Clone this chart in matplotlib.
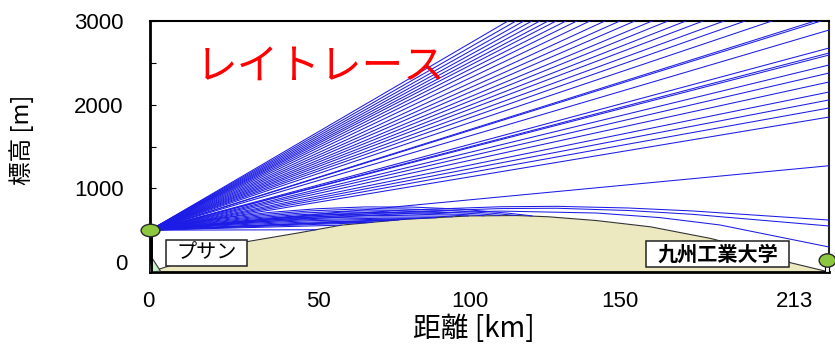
import matplotlib
matplotlib.use('Agg')
import matplotlib.pyplot as plt
from matplotlib.path import Path
from matplotlib.transforms import Affine2D, ScaledTranslation
from matplotlib.patches import Rectangle, Polygon, PathPatch

# ---------------- data ----------------
terrain_km = [0, 5, 30, 47, 60, 80, 100, 115, 125, 140, 157, 176, 190, 201, 213]
terrain_m = [0, 60, 360, 470, 560, 630, 670, 675, 660, 615, 540, 400, 260, 110, 0]

tx_km, tx_m = 0.0, 500.0          # プサン antenna
rx_km, rx_m = 212.5, 145.0        # 九州工業大学 antenna

# rays leaving through the top of the frame (km where they reach 3000 m)
top_exit_km = [112.3, 114.8, 117.3, 119.8, 122.3, 124.9, 127.4, 130.5, 133.9,
               138.0, 142.7, 147.4, 152.1, 157.5, 162.5, 168.1, 173.5, 180.1,
               186.7, 195.1, 208.6, 210.5]
# rays leaving through the right edge (height in m at 213 km)
edge_end_m = [2892, 2677, 2617, 2593, 2474, 2378, 2271, 2151, 2056, 1960, 1852, 1270]
# straight rays ending on the ground
ground_hit_km = [52, 60, 68, 78, 90]
ground_hit_m = [505, 560, 590, 622, 650]
# bending rays falling back onto the ground: end point and mid control height
fall_end_km = [70, 75, 80, 85, 90, 95, 100, 105, 110, 115, 120]
fall_end_m = [595, 613, 630, 640, 650, 660, 670, 672, 675, 675, 670]
fall_ctrl_m = [577, 605, 632, 662, 694, 728, 765, 805, 850, 900, 955]
# bent rays passing over the hill
bent_km = [[0, 40, 80, 110, 127.5, 150, 170, 213],
           [0, 40, 80, 110, 127.5, 150, 170, 213],
           [0, 40, 80, 110, 140, 160, 178.8, 213]]
bent_m = [[500, 645, 740, 780, 785, 765, 730, 621],
          [500, 630, 720, 758, 762, 735, 690, 550],
          [500, 615, 700, 728, 705, 650, 562, 299]]

x_ticks = [0, 50, 100, 150, 213]
y_ticks = [0, 500, 1000, 1500, 2000, 2500, 3000]
y_labels = ['0', '', '1000', '', '2000', '', '3000']
X_MAX, Y_MAX = 213, 3000

# ---------------- figure ----------------
JP = ['Noto Sans CJK JP', 'DejaVu Sans']
fig = plt.figure(figsize=(8.35, 3.44), dpi=100)
L, R, T, B = 150, 829, 21, 272
ax = fig.add_axes([L / 835, 1 - B / 344, (R - L) / 835, (B - T) / 344])
ax.set_xlim(0, X_MAX)
ax.set_ylim(0, Y_MAX)

ray_c = '#1c1ce6'
lw = 0.75
for xt in top_exit_km:
    ax.plot([tx_km, xt], [tx_m, Y_MAX], color=ray_c, lw=lw, zorder=3)
for h in edge_end_m:
    ax.plot([tx_km, X_MAX], [tx_m, h], color=ray_c, lw=lw, zorder=3)
for xg, hg in zip(ground_hit_km, ground_hit_m):
    ax.plot([tx_km, xg], [tx_m, hg], color=ray_c, lw=lw, zorder=3)
for xe, he, hc in zip(fall_end_km, fall_end_m, fall_ctrl_m):
    p = Path([(tx_km, tx_m), (xe / 2, hc), (xe, he)],
             [Path.MOVETO, Path.CURVE3, Path.CURVE3])
    ax.add_patch(PathPatch(p, fill=False, edgecolor=ray_c, lw=lw, zorder=3))
for xs, hs in zip(bent_km, bent_m):
    ax.plot(xs, hs, color=ray_c, lw=lw, zorder=3)

# terrain
ax.fill_between(terrain_km, 0, terrain_m, color='#ECE9C0', lw=0, zorder=2)
ax.plot(terrain_km, terrain_m, color='#333333', lw=0.8, zorder=2.5)
ax.add_patch(Polygon([[0, 0], [0.6, 170], [3.3, 10]], closed=True,
                     facecolor='#c8efc8', edgecolor='#333333', lw=0.8, zorder=2.6))

# antennas
ax.plot([0.5, 0.5], [0, tx_m], color='black', lw=1.4, zorder=4, clip_on=False)
ax.add_patch(Rectangle((211.8, 0), 1.3, 90, facecolor='white', edgecolor='black',
                       lw=0.8, zorder=4, clip_on=False))
ell = Path.unit_circle().transformed(Affine2D().scale(1.5, 1.0))
ax.plot([tx_km], [tx_m], marker=ell, ms=13.5, mfc='#8DC63F', mec='#2a2a2a',
        mew=1.0, zorder=6, clip_on=False)
ax.plot([rx_km], [rx_m], marker=Path.unit_circle().transformed(Affine2D().scale(1.25, 1.0)),
        ms=12, mfc='#8DC63F', mec='#2a2a2a', mew=1.0, zorder=6, clip_on=False)

# spines
for s in ['left', 'bottom', 'top']:
    ax.spines[s].set_color('black')
ax.spines['left'].set_linewidth(2.0)
ax.spines['bottom'].set_linewidth(2.0)
ax.spines['top'].set_linewidth(1.5)
ax.spines['right'].set_color('#222222')
ax.spines['right'].set_linewidth(1.5)

# ticks
ax.set_yticks(y_ticks)
ax.set_yticklabels(['' if l == '0' else l for l in y_labels])
ax.tick_params(axis='y', direction='in', length=4.5, width=0.8, pad=19,
               labelsize=16, colors='black')
for t in ax.get_yticklabels():
    t.set_fontfamily('Liberation Sans')
ax.set_xticks(x_ticks)
ax.set_xticklabels([])
ax.tick_params(axis='x', length=0)

px = 1 / 100
ax.text(0, 0, '0', transform=ax.get_yaxis_transform() +
        ScaledTranslation(-22 * px, 7 * px, fig.dpi_scale_trans),
        ha='right', va='center', fontsize=16, family='Liberation Sans')
x_label_dx = [-2, 9, 1, -8, -34]
for v, dx in zip(x_ticks, x_label_dx):
    ax.text(v, 0, str(v), transform=ax.get_xaxis_transform() +
            ScaledTranslation(dx * px, -19 * px, fig.dpi_scale_trans),
            ha='center', va='top', fontsize=16, family='Liberation Sans')

# axis labels
fig.text(22 / 835, 1 - 140 / 344, '標高 [m]', rotation=90, ha='center', va='center',
         fontsize=17, family=JP)
fig.text(474 / 835, 1 - 329 / 344, '距離 [km]', ha='center', va='center',
         fontsize=20, family=JP)

# title
ax.text((196 - L) / (R - L), (B - 67) / (B - T), 'レイトレース', color='#ff0000',
        fontsize=30, ha='left', va='center', family=JP, transform=ax.transAxes, zorder=7)

# location labels
def label_box(x0, y0, x1, y1, text, bold=False):
    ax.add_patch(Rectangle(((x0 - L) / (R - L), (B - y1) / (B - T)),
                           (x1 - x0) / (R - L), (y1 - y0) / (B - T),
                           transform=ax.transAxes, facecolor='white',
                           edgecolor='#222222', lw=1.1, zorder=8, clip_on=False))
    ax.text(((x0 + x1) / 2 - L) / (R - L), (B - (y0 + y1) / 2) / (B - T), text,
            transform=ax.transAxes, ha='center', va='center', fontsize=14.5,
            fontweight='bold' if bold else 'normal', family=JP, zorder=9)

label_box(166, 240, 247, 266, 'プサン')
label_box(646, 241, 789, 267, '九州工業大学', bold=True)

fig.savefig('out.png', dpi=100)
